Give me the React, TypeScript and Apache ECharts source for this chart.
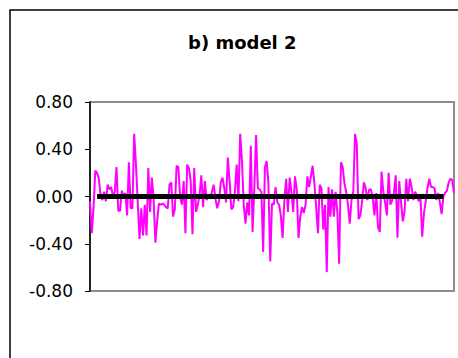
import React, { useEffect, useRef } from "react";
import * as echarts from "echarts";

const titleText = "b) model 2";
const yTicks = [-0.8, -0.4, 0, 0.4, 0.8];

const residuals: number[] = [
  -0.04, -0.31, -0.10, 0.22, 0.20, 0.15, 0.01, -0.03, 0.04, -0.04, 0.10, 0.06, 0.08, 0.00, 0.04, 0.25,
  -0.12, -0.12, 0.05, 0.00, 0.03, -0.16, 0.29, -0.10, -0.10, 0.53, 0.27, -0.04, -0.36, -0.10, -0.33, -0.07, -0.33,
  0.24, -0.13, 0.16, -0.02, -0.39, -0.21, -0.06, -0.07, -0.06, -0.07, -0.09, -0.10, 0.10, 0.12, -0.17, -0.11,
  0.26, 0.25, 0.00, -0.07, 0.13, -0.31, 0.27, 0.24, 0.13, -0.32, 0.24, -0.13, -0.07, 0.01, 0.18, -0.09, 0.13, -0.03,
  0.01, -0.02, 0.04, 0.10, -0.02, -0.10, -0.04, 0.12, 0.16, 0.07, -0.05, 0.33, 0.13, -0.11, -0.09, 0.04, 0.27,
  -0.04, 0.53, 0.30, -0.07, -0.23, -0.05, -0.16, 0.43, -0.30, 0.08, 0.52, 0.07, 0.06, 0.04, -0.47, 0.25, 0.30,
  0.10, -0.55, -0.06, -0.07, 0.08, -0.05, -0.07, -0.16, -0.35, -0.03, 0.15, -0.13, 0.16, 0.04, -0.13, 0.17, 0.06,
  -0.35, -0.17, -0.09, -0.14, -0.07, 0.17, 0.08, 0.17, 0.26, 0.11, -0.09, -0.31, 0.10, 0.07, -0.28, -0.07,
  -0.64, 0.08, -0.17, 0.06, -0.17, 0.04, -0.14, -0.57, 0.29, 0.25, 0.11, 0.04, -0.07, -0.23, -0.03, 0.04, 0.53,
  0.44, -0.19, -0.16, -0.04, 0.12, 0.07, -0.03, 0.06, 0.06, -0.01, -0.16, 0.03, -0.26, -0.30, 0.21, 0.04, -0.05,
  -0.16, 0.20,
  -0.07, -0.03, 0.03, 0.18, -0.35, 0.13, -0.04, -0.21, -0.13, 0.15, -0.04, 0.15, 0.08, -0.03, 0.04, 0.01, -0.04,
  0.00, -0.34, -0.14, -0.04, 0.07, 0.15, 0.08, 0.08, 0.07, -0.03, 0.03, -0.05, -0.15, 0.00, 0.03, 0.05, 0.12,
  0.15, 0.14, 0.03,
];

const observations: string[] = residuals.map((_, i) => String(i + 1));

// zero reference line, present only over its observed span
const zeroLine: (number | null)[] = residuals.map((_, i) => (i >= 4 && i <= 200 ? 0 : null));

export default function App() {
  const ref = useRef<HTMLDivElement>(null);
  useEffect(() => {
    document.body.style.margin = "0";
    if (!ref.current) return;
    const chart = echarts.init(ref.current, null, { renderer: "svg" });
    chart.setOption({
      animation: false,
      backgroundColor: "#ffffff",
      graphic: [
        {
          type: "rect",
          shape: { x: 10, y: 10, width: 500, height: 400 },
          style: { fill: "none", stroke: "#000", lineWidth: 1.5 },
          silent: true,
        },
      ],
      title: {
        text: titleText,
        left: 183,
        top: 28,
        textStyle: {
          fontFamily: "DejaVu Sans",
          fontWeight: "bold",
          fontSize: 18,
          color: "#000",
        },
      },
      grid: {
        left: 90,
        right: 4,
        top: 102,
        bottom: 67,
        show: true,
        borderColor: "#8c8c8c",
        borderWidth: 2,
        backgroundColor: "#ffffff",
      },
      xAxis: {
        type: "category",
        data: observations,
        boundaryGap: false,
        axisLine: { show: false },
        axisTick: { show: false },
        axisLabel: { show: false },
        splitLine: { show: false },
      },
      yAxis: {
        type: "value",
        min: -0.8,
        max: 0.8,
        interval: 0.4,
        axisLine: { show: true, lineStyle: { color: "#000", width: 1.5 } },
        axisTick: { show: true, inside: false, length: 5, lineStyle: { color: "#000", width: 1 } },
        axisLabel: {
          margin: 17,
          fontFamily: "DejaVu Sans",
          fontSize: 17,
          color: "#000",
          formatter: (v: number) => {
            const t = yTicks.find((y) => Math.abs(y - v) < 1e-9);
            return (t !== undefined ? t : v).toFixed(2);
          },
        },
        splitLine: { show: false },
      },
      series: [
        {
          type: "line",
          data: residuals,
          symbol: "none",
          lineStyle: { color: "#ff00ff", width: 2 },
          z: 2,
        },
        {
          type: "line",
          data: zeroLine,
          symbol: "none",
          connectNulls: false,
          lineStyle: { color: "#000000", width: 5, cap: "butt" },
          z: 3,
        },
      ],
    });
    return () => chart.dispose();
  }, []);
  return <div ref={ref} style={{ width: 458, height: 358 }} />;
}
